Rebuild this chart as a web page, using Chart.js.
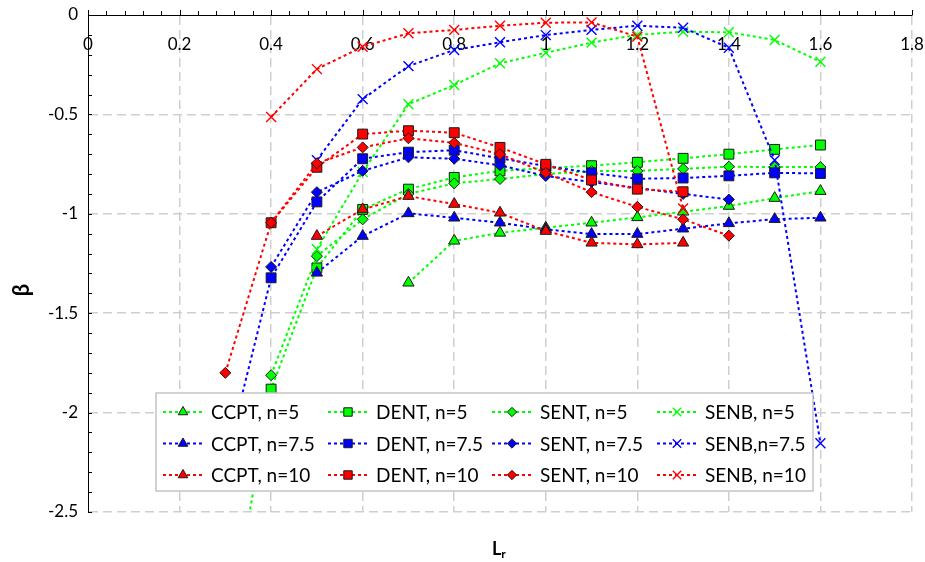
<!DOCTYPE html>
<html><head><meta charset="utf-8">
<script src="https://cdn.jsdelivr.net/npm/chart.js@4.4.1/dist/chart.umd.min.js"></script>
<style>html,body{margin:0;padding:0;background:#fff}#wrap{position:relative;width:925px;height:562px}</style>
</head><body><div id="wrap"><canvas id="c" width="925" height="562"></canvas></div>
<script>
// ---- data ----
const LR = [0.3, 0.4, 0.5, 0.6, 0.7, 0.8, 0.9, 1.0, 1.1, 1.2, 1.3, 1.4, 1.5, 1.6];
const CCPT_5   = [null, null, null, null, -1.347, -1.136, -1.096, -1.07, -1.045, -1.018, -0.99, -0.961, -0.921, -0.886];
const DENT_5   = [-3.2, -1.882, -1.272, -0.978, -0.876, -0.817, -0.784, -0.77, -0.758, -0.741, -0.721, -0.70, -0.676, -0.654];
const SENT_5   = [null, -1.812, -1.213, -1.028, -0.9, -0.847, -0.825, -0.80, -0.785, -0.784, -0.774, -0.763, -0.765, -0.765];
const SENB_5   = [null, null, -1.178, -0.79, -0.449, -0.352, -0.243, -0.19, -0.139, -0.10, -0.084, -0.087, -0.126, -0.235];
const CCPT_7_5 = [null, null, -1.297, -1.112, -0.998, -1.02, -1.045, -1.078, -1.102, -1.102, -1.075, -1.048, -1.027, -1.02];
const DENT_7_5 = [-2.25, -1.322, -0.94, -0.723, -0.69, -0.68, -0.721, -0.76, -0.794, -0.824, -0.82, -0.809, -0.794, -0.797];
const SENT_7_5 = [null, -1.267, -0.891, -0.784, -0.716, -0.723, -0.756, -0.81, -0.84, -0.87, -0.9, -0.928, null, null];
const SENB_7_5 = [null, null, -0.73, -0.423, -0.257, -0.176, -0.137, -0.101, -0.075, -0.054, -0.064, -0.165, -0.73, -2.154];
const CCPT_10  = [null, null, -1.112, -0.978, -0.911, -0.951, -0.995, -1.087, -1.146, -1.154, -1.146, null, null, null];
const DENT_10  = [null, -1.045, -0.766, -0.599, -0.582, -0.592, -0.666, -0.751, -0.83, -0.876, -0.889, null, null, null];
const SENT_10  = [-1.80, -1.045, -0.746, -0.666, -0.62, -0.643, -0.70, -0.794, -0.891, -0.965, -1.028, -1.11, null, null];
const SENB_10  = [null, -0.513, -0.272, -0.16, -0.092, -0.075, -0.054, -0.039, -0.037, -0.109, -0.973, null, null, null];

const SERIES_LABELS = ['CCPT, n=5','DENT, n=5','SENT, n=5','SENB, n=5',
                       'CCPT, n=7.5','DENT, n=7.5','SENT, n=7.5','SENB,n=7.5',
                       'CCPT, n=10','DENT, n=10','SENT, n=10','SENB, n=10'];
const SERIES_VALUES = [CCPT_5, DENT_5, SENT_5, SENB_5, CCPT_7_5, DENT_7_5, SENT_7_5, SENB_7_5, CCPT_10, DENT_10, SENT_10, SENB_10];

const X_MIN = 0, X_MAX = 1.8, X_STEP = 0.2, X_MINOR = 0.04;
const Y_MIN = -2.5, Y_MAX = 0, Y_STEP = 0.5, Y_MINOR = 0.1;

// ---- styles ----
const COLORS = ['#00ff00', '#0000ff', '#ff0000'];
const STYLES = [
  {pointStyle: 'triangle', radius: 6.5},
  {pointStyle: 'rect', radius: 7},
  {pointStyle: 'rectRot', radius: 5.5},
  {pointStyle: 'crossRot', radius: 7}
];
const FONT = 'Lato, "Open Sans", sans-serif';

const datasets = SERIES_VALUES.map((vals, i) => {
  const color = COLORS[Math.floor(i / 4)];
  const st = STYLES[i % 4];
  const isCross = st.pointStyle === 'crossRot';
  return {
    label: SERIES_LABELS[i],
    data: LR.map((x, k) => vals[k] === null ? null : {x: x, y: vals[k]}).filter(p => p !== null),
    borderColor: color,
    backgroundColor: color,
    borderWidth: 2,
    borderDash: [3, 3],
    tension: 0,
    fill: false,
    pointStyle: st.pointStyle,
    pointRadius: st.radius,
    pointHoverRadius: st.radius,
    pointBackgroundColor: color,
    pointBorderColor: isCross ? color : '#1a1a1a',
    pointBorderWidth: isCross ? 1.4 : 1,
    order: 11 - i
  };
});

function drawMarker(ctx, st, bw, x, y) {
  if (Chart.helpers && Chart.helpers.drawPoint) {
    Chart.helpers.drawPoint(ctx, {pointStyle: st.pointStyle, radius: st.radius, rotation: 0, borderWidth: bw}, x, y);
  }
}

const fmt = (v) => String(Number(Number(v).toFixed(2)));

const decor = {
  id: 'decor',
  afterDraw(chart) {
    const ctx = chart.ctx, xs = chart.scales.x, ys = chart.scales.y, a = chart.chartArea;
    ctx.save();
    ctx.strokeStyle = '#000';
    ctx.lineWidth = 1;
    ctx.setLineDash([]);
    // x ticks (above the axis line)
    const nx = Math.round((X_MAX - X_MIN) / X_MINOR);
    for (let k = 0; k <= nx; k++) {
      const px = Math.round(xs.getPixelForValue(X_MIN + k * X_MINOR)) + 0.5;
      const len = (k % 5 === 0) ? 5 : 4;
      ctx.beginPath(); ctx.moveTo(px, a.top); ctx.lineTo(px, a.top - len); ctx.stroke();
    }
    // y ticks (inside, to the right)
    const ny = Math.round((Y_MAX - Y_MIN) / Y_MINOR);
    for (let k = 0; k <= ny; k++) {
      const py = Math.round(ys.getPixelForValue(Y_MAX - k * Y_MINOR)) + 0.5;
      ctx.beginPath(); ctx.moveTo(a.left, py); ctx.lineTo(a.left + 4, py); ctx.stroke();
    }
    // axis titles
    ctx.fillStyle = '#000';
    ctx.save();
    ctx.translate(22, 290);
    ctx.rotate(-Math.PI / 2);
    ctx.font = 'bold 22px ' + FONT;
    ctx.textAlign = 'center';
    ctx.textBaseline = 'middle';
    ctx.fillText('β', 0, 0);
    ctx.restore();
    ctx.textAlign = 'left';
    ctx.textBaseline = 'alphabetic';
    ctx.font = 'bold 18px ' + FONT;
    ctx.fillText('L', 492, 555);
    const lw = ctx.measureText('L').width;
    ctx.font = 'bold 12px ' + FONT;
    ctx.fillText('r', 492 + lw, 558);

    // legend
    const L = {x: 156, y: 393, w: 657, h: 98, colX: [163, 328, 492, 657], rowY: [412, 443.5, 475]};
    ctx.fillStyle = '#fff';
    ctx.fillRect(L.x, L.y, L.w, L.h);
    ctx.strokeStyle = '#c4c4c4';
    ctx.lineWidth = 1.5;
    ctx.strokeRect(L.x, L.y, L.w, L.h);
    chart.data.datasets.forEach((d, i) => {
      const r = Math.floor(i / 4), c = i % 4;
      const x0 = L.colX[c], y0 = L.rowY[r];
      ctx.save();
      ctx.strokeStyle = d.borderColor;
      ctx.lineWidth = 2;
      ctx.setLineDash(d.borderDash);
      ctx.beginPath(); ctx.moveTo(x0, y0); ctx.lineTo(x0 + 40, y0); ctx.stroke();
      ctx.setLineDash([]);
      ctx.fillStyle = d.pointBackgroundColor;
      ctx.strokeStyle = d.pointBorderColor;
      ctx.lineWidth = d.pointBorderWidth;
      const st = STYLES[i % 4];
      drawMarker(ctx, {pointStyle: st.pointStyle, radius: st.radius * 0.85}, d.pointBorderWidth, x0 + 20, y0);
      ctx.restore();
      ctx.fillStyle = '#000';
      ctx.font = '19px ' + FONT;
      ctx.textAlign = 'left';
      ctx.textBaseline = 'middle';
      ctx.fillText(d.label, x0 + 48, y0 + 1);
    });
    ctx.restore();
  }
};

const gridColor = (zeroVal) => (c) => (c.tick && Math.abs(c.tick.value - zeroVal) < 1e-9) ? 'rgba(0,0,0,0)' : '#cfcfcf';

new Chart(document.getElementById('c'), {
  type: 'line',
  data: {datasets: datasets},
  options: {
    responsive: false,
    animation: false,
    devicePixelRatio: 1,
    layout: {padding: {left: 0, top: 0, right: 13, bottom: 50}},
    plugins: {legend: {display: false}, tooltip: {enabled: false}},
    font: {family: FONT},
    scales: {
      x: {
        type: 'linear', position: 'top', min: X_MIN, max: X_MAX,
        ticks: {stepSize: X_STEP, mirror: true, padding: 19, color: '#000', font: {family: FONT, size: 17}, maxRotation: 0, callback: fmt},
        grid: {color: gridColor(0), lineWidth: 1.5, drawTicks: false},
        border: {display: true, color: '#000', width: 1, dash: [9, 5]},
        afterFit(s) { s.height = 15; s.paddingLeft = 0; s.paddingRight = 0; }
      },
      y: {
        type: 'linear', position: 'left', min: Y_MIN, max: Y_MAX,
        ticks: {stepSize: Y_STEP, padding: 10, color: '#000', font: {family: FONT, size: 17}, callback: fmt},
        grid: {color: gridColor(0), lineWidth: 1.5, drawTicks: false},
        border: {display: true, color: '#000', width: 1, dash: [9, 5]},
        afterFit(s) { s.width = 88; s.paddingTop = 0; s.paddingBottom = 0; }
      }
    }
  },
  plugins: [decor]
});
</script>
</body></html>
